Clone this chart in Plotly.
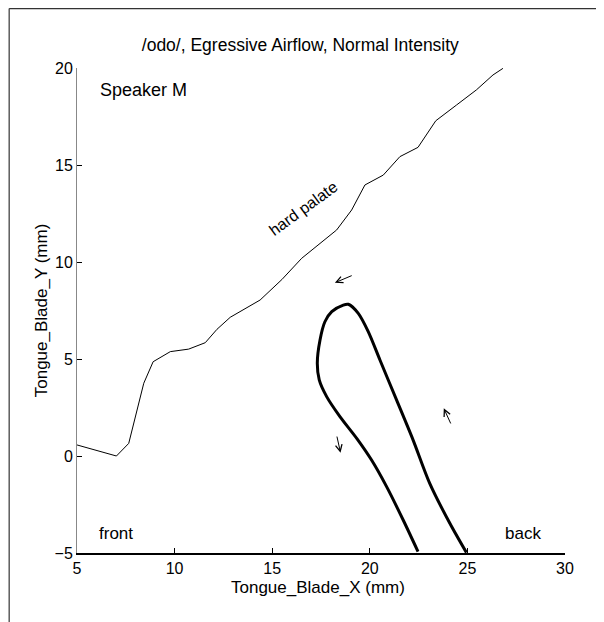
import plotly.graph_objects as go

palate_x = [5.0, 7.02, 7.65, 8.42, 8.9, 9.78, 10.72, 11.57, 12.17, 12.85, 14.38, 15.5, 16.51,
            18.3, 19.07, 19.75, 20.69, 21.54, 22.47, 23.38, 24.44, 25.46, 26.31, 26.82]
palate_y = [0.57, 0.0, 0.65, 3.75, 4.86, 5.38, 5.51, 5.84, 6.53, 7.15, 8.04, 9.1, 10.19,
            11.65, 12.68, 13.97, 14.48, 15.43, 15.91, 17.28, 18.09, 18.87, 19.64, 19.98]

tongue_x = [24.95, 24.1, 23.07, 22.22, 21.37, 20.52, 19.92, 19.41, 18.9, 18.64, 18.05, 17.7,
            17.45, 17.31, 17.41, 17.79, 18.47, 19.33, 20.09, 20.86, 21.71, 22.47]
tongue_y = [-4.98, -3.47, -1.41, 0.82, 2.89, 4.95, 6.41, 7.35, 7.82, 7.78, 7.44, 6.92,
            5.98, 4.78, 3.92, 3.06, 2.03, 0.91, -0.21, -1.58, -3.3, -4.93]

# arrows: (tail_x, tail_y, head_x, head_y)
arrows = [(19.15, 9.33, 18.21, 8.93), (24.18, 1.6, 23.79, 2.46), (18.3, 1.08, 18.5, 0.17)]

x_ticks = [5, 10, 15, 20, 25, 30]
y_ticks = [-5, 0, 5, 10, 15, 20]

FONT = "Liberation Sans, Arial, Helvetica, sans-serif"

fig = go.Figure()
fig.add_trace(go.Scatter(x=palate_x, y=palate_y, mode="lines",
                         line=dict(color="black", width=1), showlegend=False))
fig.add_trace(go.Scatter(x=tongue_x, y=tongue_y, mode="lines",
                         line=dict(color="black", width=3, shape="spline", smoothing=0.8),
                         showlegend=False))

anns = []
for tx, ty, hx, hy in arrows:
    anns.append(dict(x=hx, y=hy, ax=tx, ay=ty, xref="x", yref="y", axref="x", ayref="y",
                     showarrow=True, arrowhead=5, arrowsize=1.3, arrowwidth=1,
                     arrowcolor="black", text=""))
anns += [
    dict(x=6.05, y=18.87, xref="x", yref="y", text="Speaker M", showarrow=False,
         xanchor="left", yanchor="middle", font=dict(size=18)),
    dict(x=16.58, y=12.78, xref="x", yref="y", text="hard palate", showarrow=False,
         textangle=-36, font=dict(size=16)),
    dict(x=7.02, y=-3.97, xref="x", yref="y", text="front", showarrow=False,
         font=dict(size=17)),
    dict(x=27.83, y=-3.97, xref="x", yref="y", text="back", showarrow=False,
         font=dict(size=17)),
    dict(x=0.494, y=0, xref="paper", yref="paper", text="Tongue_Blade_X (mm)", showarrow=False,
         xanchor="center", yanchor="top", yshift=-23, font=dict(size=17)),
]

fig.update_layout(
    width=604, height=622,
    margin=dict(l=68.5, r=47, t=60, b=77),
    paper_bgcolor="white", plot_bgcolor="white",
    font=dict(family=FONT, size=16, color="black"),
    title=dict(text="/odo/, Egressive Airflow, Normal Intensity", x=0.484, xanchor="center",
               y=1 - 37 / 622, yanchor="middle", font=dict(size=17.5)),
    annotations=anns,
    shapes=[
        dict(type="line", xref="paper", yref="paper", x0=-0.139, x1=1.2, y0=1.1225, y1=1.1225,
             line=dict(color="#333333", width=1.2)),
        dict(type="line", xref="paper", yref="paper", x0=-0.139, x1=-0.139, y0=-0.2, y1=1.1225,
             line=dict(color="#333333", width=1.2)),
    ],
)
fig.update_xaxes(range=[5, 30], tickvals=x_ticks, ticks="inside", ticklen=5, tickcolor="black",
                 showline=True, linecolor="black", linewidth=1.5, showgrid=False, zeroline=False,
                 tickfont=dict(size=16))
fig.update_yaxes(range=[-5, 20], tickvals=y_ticks, ticks="inside", ticklen=5, tickcolor="black",
                 showline=True, linecolor="#888888", linewidth=1, showgrid=False, zeroline=False,
                 tickformat="d", title=dict(text="Tongue_Blade_Y (mm)", standoff=2, font=dict(size=17)),
                 tickfont=dict(size=16))

fig.write_html("out.html")
